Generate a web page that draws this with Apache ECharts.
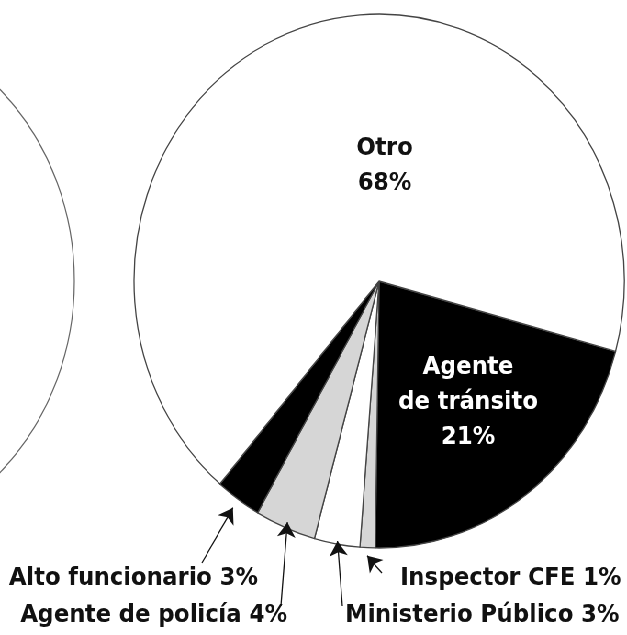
<!DOCTYPE html>
<html>
<head>
<meta charset="utf-8">
<script src="https://cdn.jsdelivr.net/npm/echarts@6/dist/echarts.min.js"></script>
<style>
  html, body { margin: 0; padding: 0; overflow: hidden; background: #fff; }
  /* the source graphic is a pie squeezed sideways, so the whole canvas is squeezed the same way */
  #chart { width: 683px; height: 635px; transform: scaleX(0.918); transform-origin: 0 0; }
</style>
</head>
<body>
<div id="chart"></div>
<script>
const categories = ['Agente de tránsito', 'Inspector CFE', 'Ministerio Público', 'Agente de policía', 'Alto funcionario', 'Otro'];
const shares = [21, 1, 3, 4, 3, 68];
const sliceColors = ['#000', '#d6d6d6', '#fff', '#d6d6d6', '#000', '#fff'];
const insideNames = ['Agente de tránsito', 'Otro'];

const W = 683, H = 635;
const center = [413, 281];
const R = 267;
const startAngle = -15.3; // first slice begins a little below 3 o'clock

// where the label text sits
const labelSpots = {
  'Agente de tránsito': { x: 510, y: 403, align: 'center' },
  'Otro': { x: 419, y: 166, align: 'center' },
  'Alto funcionario': { x: 281, y: 579, align: 'right' },
  'Agente de policía': { x: 313, y: 616, align: 'right' },
  'Ministerio Público': { x: 376, y: 616, align: 'left' },
  'Inspector CFE': { x: 436, y: 579, align: 'left' }
};
// arrow tails near the text, and how far past the rim the head stops
const arrowSpots = {
  'Alto funcionario': { tail: [220, 563], gap: 10 },
  'Agente de policía': { tail: [306, 606], gap: -6 },
  'Ministerio Público': { tail: [373, 606], gap: -3 },
  'Inspector CFE': { tail: [416, 573], gap: 8 }
};

const total = shares.reduce((a, b) => a + b, 0);
const arrows = [];
let cum = 0;
categories.forEach((name, i) => {
  const mid = (-startAngle + 360 * (cum + shares[i] / 2) / total) * Math.PI / 180;
  cum += shares[i];
  const a = arrowSpots[name];
  if (!a) return;
  const r = R + a.gap;
  arrows.push({ coords: [a.tail, [center[0] + r * Math.cos(mid), center[1] + r * Math.sin(mid)]] });
});

const chart = echarts.init(document.getElementById('chart'));

chart.setOption({
  backgroundColor: '#fff',
  animation: false,
  grid: { left: 0, right: 0, top: 0, bottom: 0 },
  xAxis: { type: 'value', min: 0, max: W, show: false },
  yAxis: { type: 'value', min: 0, max: H, inverse: true, show: false },
  series: [
    {
      // edge of the neighbouring pie, cut off by the frame
      type: 'pie',
      silent: true,
      center: [-186, 281],
      radius: R,
      label: { show: false },
      labelLine: { show: false },
      itemStyle: { color: '#fff', borderColor: '#666', borderWidth: 1.2 },
      data: [{ name: '', value: 1 }]
    },
    {
      type: 'pie',
      z: 2,
      center: center,
      radius: R,
      startAngle: startAngle,
      clockwise: true,
      avoidLabelOverlap: false,
      labelLine: { show: false },
      itemStyle: { borderColor: '#444', borderWidth: 1.3 },
      label: {
        show: true,
        position: 'inside',
        fontFamily: 'DejaVu Sans',
        fontWeight: 'bold',
        fontSize: 24.5,
        lineHeight: 35,
        color: '#111',
        formatter: p => insideNames.includes(p.name)
          ? p.name.replace('Agente ', 'Agente\n') + '\n' + p.value + '%'
          : p.name + ' ' + p.value + '%'
      },
      labelLayout: p => {
        const s = labelSpots[categories[p.dataIndex]];
        return { x: s.x, y: s.y, align: s.align, verticalAlign: 'middle' };
      },
      data: categories.map((name, i) => ({
        name: name,
        value: shares[i],
        itemStyle: { color: sliceColors[i] },
        label: { color: name === 'Agente de tránsito' ? '#fff' : '#111' }
      }))
    },
    {
      type: 'lines',
      coordinateSystem: 'cartesian2d',
      z: 5,
      silent: true,
      symbol: ['none', 'arrow'],
      symbolSize: 15,
      lineStyle: { color: '#111', width: 1.3, opacity: 1 },
      data: arrows
    }
  ]
});
</script>
</body>
</html>
